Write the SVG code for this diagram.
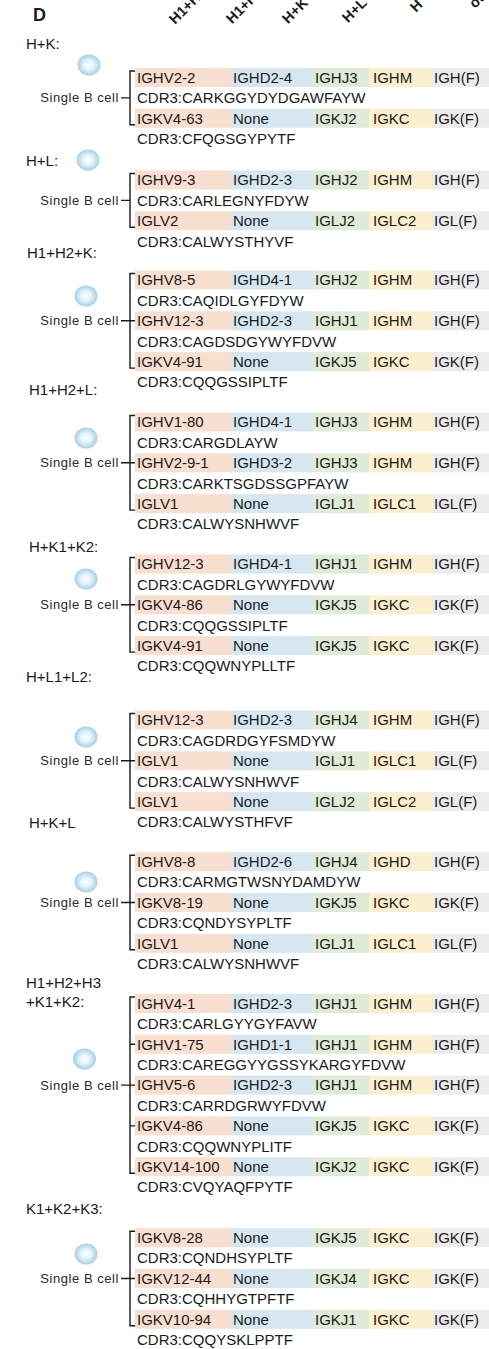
<svg xmlns="http://www.w3.org/2000/svg" xmlns:xlink="http://www.w3.org/1999/xlink" width="489" height="1349" viewBox="0 0 489 1349">
<style>
text{font-family:"Liberation Sans",Arial,sans-serif;fill:#1a1a1a}
.t{font-size:15px}
.lab{font-size:15px}
.sb{font-size:13px;letter-spacing:0.55px;fill:#2a2a2a;text-anchor:end}
.hd{font-size:14.5px;font-weight:bold}
.o{fill:#f9dfcf}.b{fill:#d7e7f1}.g{fill:#dfebd7}.y{fill:#fcefcf}.k{fill:#ececec}
.br{fill:none;stroke:#1a1a1a;stroke-width:1.4}
</style>
<defs>
<radialGradient id="bg" cx="0.5" cy="0.5" r="0.5">
<stop offset="0" stop-color="#ffffff"/>
<stop offset="0.45" stop-color="#e6f3fa"/>
<stop offset="1" stop-color="#a5d0e8"/>
</radialGradient>
<ellipse id="ball" cx="0" cy="0" rx="11.5" ry="10.5" fill="url(#bg)"/>
<g id="band">
<rect class="o" x="135" y="0" width="96" height="19"/>
<rect class="b" x="231" y="0" width="81" height="19"/>
<rect class="g" x="312" y="0" width="57" height="19"/>
<rect class="y" x="369" y="0" width="63" height="19"/>
<rect class="k" x="432" y="0" width="57" height="19"/>
</g>
</defs>
<rect width="489" height="1349" fill="#ffffff"/>

<g id="header">
<text x="33" y="21" style="font-size:18px;font-weight:bold">D</text>
<text class="hd" transform="translate(175,25) rotate(-45)">H1+H</text>
<text class="hd" transform="translate(232,24.5) rotate(-45)">H1+H</text>
<text class="hd" transform="translate(288,24.5) rotate(-45)">H+K</text>
<text class="hd" transform="translate(348,23.5) rotate(-45)">H+L</text>
<text class="hd" transform="translate(416,13) rotate(-45)">H</text>
<text class="hd" transform="translate(475,9) rotate(-45)">ot</text>
</g>

<g id="connectors">
<path class="br" d="M135,71H130V124.8H135M121,97.9H130"/>
<path class="br" d="M135,173.5H130V227.3H135M121,200.4H130"/>
<path class="br" d="M135,273.5H130V368.1H135M121,320.8H135"/>
<path class="br" d="M135,415.5H130V510.1H135M121,462.8H135"/>
<path class="br" d="M135,557.5H130V652.1H135M121,604.8H135"/>
<path class="br" d="M135,713.5H130V808.1H135M121,760.8H135"/>
<path class="br" d="M135,855.2H130V949.8H135M121,902.5H135"/>
<path class="br" d="M135,997H130V1173.2H135M130,1044.3H135M121,1085.1H135M130,1125.9H135"/>
<path class="br" d="M135,1231.2H130V1325.8H135M121,1278.5H135"/>
</g>

<g id="s1">
<text class="lab" x="26" y="48.7">H+K:</text>
<use xlink:href="#ball" x="89" y="65"/>
<text class="sb" x="119" y="102.4">Single B cell</text>
<use xlink:href="#band" y="68"/>
<use xlink:href="#band" y="108.8"/>
<text class="t" y="82.8"><tspan x="137">IGHV2-2</tspan><tspan x="233">IGHD2-4</tspan><tspan x="315">IGHJ3</tspan><tspan x="373">IGHM</tspan><tspan x="434">IGH(F)</tspan></text>
<text class="t" x="137" y="103.2">CDR3:CARKGGYDYDGAWFAYW</text>
<text class="t" y="123.6"><tspan x="137">IGKV4-63</tspan><tspan x="233">None</tspan><tspan x="315">IGKJ2</tspan><tspan x="373">IGKC</tspan><tspan x="434">IGK(F)</tspan></text>
<text class="t" x="137" y="144">CDR3:CFQGSGYPYTF</text>
</g>

<g id="s2">
<text class="lab" x="26" y="166.4">H+L:</text>
<use xlink:href="#ball" x="88" y="160"/>
<text class="sb" x="119" y="204.9">Single B cell</text>
<use xlink:href="#band" y="170.5"/>
<use xlink:href="#band" y="211.3"/>
<text class="t" y="185.3"><tspan x="137">IGHV9-3</tspan><tspan x="233">IGHD2-3</tspan><tspan x="315">IGHJ2</tspan><tspan x="373">IGHM</tspan><tspan x="434">IGH(F)</tspan></text>
<text class="t" x="137" y="205.7">CDR3:CARLEGNYFDYW</text>
<text class="t" y="226.1"><tspan x="137">IGLV2</tspan><tspan x="233">None</tspan><tspan x="315">IGLJ2</tspan><tspan x="373">IGLC2</tspan><tspan x="434">IGL(F)</tspan></text>
<text class="t" x="137" y="246.5">CDR3:CALWYSTHYVF</text>
</g>

<g id="s3">
<text class="lab" x="27" y="258.4">H1+H2+K:</text>
<use xlink:href="#ball" x="86" y="296"/>
<text class="sb" x="119" y="325.3">Single B cell</text>
<use xlink:href="#band" y="270.5"/>
<use xlink:href="#band" y="311.3"/>
<use xlink:href="#band" y="352.1"/>
<text class="t" y="285.3"><tspan x="137">IGHV8-5</tspan><tspan x="233">IGHD4-1</tspan><tspan x="315">IGHJ2</tspan><tspan x="373">IGHM</tspan><tspan x="434">IGH(F)</tspan></text>
<text class="t" x="137" y="305.7">CDR3:CAQIDLGYFDYW</text>
<text class="t" y="326.1"><tspan x="137">IGHV12-3</tspan><tspan x="233">IGHD2-3</tspan><tspan x="315">IGHJ1</tspan><tspan x="373">IGHM</tspan><tspan x="434">IGH(F)</tspan></text>
<text class="t" x="137" y="346.5">CDR3:CAGDSDGYWYFDVW</text>
<text class="t" y="366.9"><tspan x="137">IGKV4-91</tspan><tspan x="233">None</tspan><tspan x="315">IGKJ5</tspan><tspan x="373">IGKC</tspan><tspan x="434">IGK(F)</tspan></text>
<text class="t" x="137" y="387.3">CDR3:CQQGSSIPLTF</text>
</g>

<g id="s4">
<text class="lab" x="29" y="395.4">H1+H2+L:</text>
<use xlink:href="#ball" x="86" y="438"/>
<text class="sb" x="119" y="467.3">Single B cell</text>
<use xlink:href="#band" y="412.5"/>
<use xlink:href="#band" y="453.3"/>
<use xlink:href="#band" y="494.1"/>
<text class="t" y="427.3"><tspan x="137">IGHV1-80</tspan><tspan x="233">IGHD4-1</tspan><tspan x="315">IGHJ3</tspan><tspan x="373">IGHM</tspan><tspan x="434">IGH(F)</tspan></text>
<text class="t" x="137" y="447.7">CDR3:CARGDLAYW</text>
<text class="t" y="468.1"><tspan x="137">IGHV2-9-1</tspan><tspan x="233">IGHD3-2</tspan><tspan x="315">IGHJ3</tspan><tspan x="373">IGHM</tspan><tspan x="434">IGH(F)</tspan></text>
<text class="t" x="137" y="488.5">CDR3:CARKTSGDSSGPFAYW</text>
<text class="t" y="508.9"><tspan x="137">IGLV1</tspan><tspan x="233">None</tspan><tspan x="315">IGLJ1</tspan><tspan x="373">IGLC1</tspan><tspan x="434">IGL(F)</tspan></text>
<text class="t" x="137" y="529.3">CDR3:CALWYSNHWVF</text>
</g>

<g id="s5">
<text class="lab" x="29" y="552.1">H+K1+K2:</text>
<use xlink:href="#ball" x="86" y="579"/>
<text class="sb" x="119" y="609.3">Single B cell</text>
<use xlink:href="#band" y="554.5"/>
<use xlink:href="#band" y="595.3"/>
<use xlink:href="#band" y="636.1"/>
<text class="t" y="569.3"><tspan x="137">IGHV12-3</tspan><tspan x="233">IGHD4-1</tspan><tspan x="315">IGHJ1</tspan><tspan x="373">IGHM</tspan><tspan x="434">IGH(F)</tspan></text>
<text class="t" x="137" y="589.7">CDR3:CAGDRLGYWYFDVW</text>
<text class="t" y="610.1"><tspan x="137">IGKV4-86</tspan><tspan x="233">None</tspan><tspan x="315">IGKJ5</tspan><tspan x="373">IGKC</tspan><tspan x="434">IGK(F)</tspan></text>
<text class="t" x="137" y="630.5">CDR3:CQQGSSIPLTF</text>
<text class="t" y="650.9"><tspan x="137">IGKV4-91</tspan><tspan x="233">None</tspan><tspan x="315">IGKJ5</tspan><tspan x="373">IGKC</tspan><tspan x="434">IGK(F)</tspan></text>
<text class="t" x="137" y="671.3">CDR3:CQQWNYPLLTF</text>
</g>

<g id="s6">
<text class="lab" x="26" y="682.1">H+L1+L2:</text>
<use xlink:href="#ball" x="86" y="737"/>
<text class="sb" x="119" y="765.3">Single B cell</text>
<use xlink:href="#band" y="710.5"/>
<use xlink:href="#band" y="751.3"/>
<use xlink:href="#band" y="792.1"/>
<text class="t" y="725.3"><tspan x="137">IGHV12-3</tspan><tspan x="233">IGHD2-3</tspan><tspan x="315">IGHJ4</tspan><tspan x="373">IGHM</tspan><tspan x="434">IGH(F)</tspan></text>
<text class="t" x="137" y="745.7">CDR3:CAGDRDGYFSMDYW</text>
<text class="t" y="766.1"><tspan x="137">IGLV1</tspan><tspan x="233">None</tspan><tspan x="315">IGLJ1</tspan><tspan x="373">IGLC1</tspan><tspan x="434">IGL(F)</tspan></text>
<text class="t" x="137" y="786.5">CDR3:CALWYSNHWVF</text>
<text class="t" y="806.9"><tspan x="137">IGLV1</tspan><tspan x="233">None</tspan><tspan x="315">IGLJ2</tspan><tspan x="373">IGLC2</tspan><tspan x="434">IGL(F)</tspan></text>
<text class="t" x="137" y="827.3">CDR3:CALWYSTHFVF</text>
</g>

<g id="s7">
<text class="lab" x="29" y="828.1">H+K+L</text>
<use xlink:href="#ball" x="86" y="882"/>
<text class="sb" x="119" y="907">Single B cell</text>
<use xlink:href="#band" y="852.2"/>
<use xlink:href="#band" y="893"/>
<use xlink:href="#band" y="933.8"/>
<text class="t" y="867"><tspan x="137">IGHV8-8</tspan><tspan x="233">IGHD2-6</tspan><tspan x="315">IGHJ4</tspan><tspan x="373">IGHD</tspan><tspan x="434">IGH(F)</tspan></text>
<text class="t" x="137" y="887.4">CDR3:CARMGTWSNYDAMDYW</text>
<text class="t" y="907.8"><tspan x="137">IGKV8-19</tspan><tspan x="233">None</tspan><tspan x="315">IGKJ5</tspan><tspan x="373">IGKC</tspan><tspan x="434">IGK(F)</tspan></text>
<text class="t" x="137" y="928.2">CDR3:CQNDYSYPLTF</text>
<text class="t" y="948.6"><tspan x="137">IGLV1</tspan><tspan x="233">None</tspan><tspan x="315">IGLJ1</tspan><tspan x="373">IGLC1</tspan><tspan x="434">IGL(F)</tspan></text>
<text class="t" x="137" y="969">CDR3:CALWYSNHWVF</text>
</g>

<g id="s8">
<text class="lab" x="26" y="988.1">H1+H2+H3</text>
<text class="lab" x="26" y="1007.4">+K1+K2:</text>
<use xlink:href="#ball" x="84.5" y="1059"/>
<text class="sb" x="119" y="1089.6">Single B cell</text>
<use xlink:href="#band" y="994"/>
<use xlink:href="#band" y="1034.8"/>
<use xlink:href="#band" y="1075.6"/>
<use xlink:href="#band" y="1116.4"/>
<use xlink:href="#band" y="1157.2"/>
<text class="t" y="1008.8"><tspan x="137">IGHV4-1</tspan><tspan x="233">IGHD2-3</tspan><tspan x="315">IGHJ1</tspan><tspan x="373">IGHM</tspan><tspan x="434">IGH(F)</tspan></text>
<text class="t" x="137" y="1029.2">CDR3:CARLGYYGYFAVW</text>
<text class="t" y="1049.6"><tspan x="137">IGHV1-75</tspan><tspan x="233">IGHD1-1</tspan><tspan x="315">IGHJ1</tspan><tspan x="373">IGHM</tspan><tspan x="434">IGH(F)</tspan></text>
<text class="t" x="137" y="1070">CDR3:CAREGGYYGSSYKARGYFDVW</text>
<text class="t" y="1090.4"><tspan x="137">IGHV5-6</tspan><tspan x="233">IGHD2-3</tspan><tspan x="315">IGHJ1</tspan><tspan x="373">IGHM</tspan><tspan x="434">IGH(F)</tspan></text>
<text class="t" x="137" y="1110.8">CDR3:CARRDGRWYFDVW</text>
<text class="t" y="1131.2"><tspan x="137">IGKV4-86</tspan><tspan x="233">None</tspan><tspan x="315">IGKJ5</tspan><tspan x="373">IGKC</tspan><tspan x="434">IGK(F)</tspan></text>
<text class="t" x="137" y="1151.6">CDR3:CQQWNYPLITF</text>
<text class="t" y="1172"><tspan x="137">IGKV14-100</tspan><tspan x="233">None</tspan><tspan x="315">IGKJ2</tspan><tspan x="373">IGKC</tspan><tspan x="434">IGK(F)</tspan></text>
<text class="t" x="137" y="1192.4">CDR3:CVQYAQFPYTF</text>
</g>

<g id="s9">
<text class="lab" x="26" y="1213.7">K1+K2+K3:</text>
<use xlink:href="#ball" x="86" y="1254"/>
<text class="sb" x="119" y="1283">Single B cell</text>
<use xlink:href="#band" y="1228.2"/>
<use xlink:href="#band" y="1269"/>
<use xlink:href="#band" y="1309.8"/>
<text class="t" y="1243"><tspan x="137">IGKV8-28</tspan><tspan x="233">None</tspan><tspan x="315">IGKJ5</tspan><tspan x="373">IGKC</tspan><tspan x="434">IGK(F)</tspan></text>
<text class="t" x="137" y="1263.4">CDR3:CQNDHSYPLTF</text>
<text class="t" y="1283.8"><tspan x="137">IGKV12-44</tspan><tspan x="233">None</tspan><tspan x="315">IGKJ4</tspan><tspan x="373">IGKC</tspan><tspan x="434">IGK(F)</tspan></text>
<text class="t" x="137" y="1304.2">CDR3:CQHHYGTPFTF</text>
<text class="t" y="1324.6"><tspan x="137">IGKV10-94</tspan><tspan x="233">None</tspan><tspan x="315">IGKJ1</tspan><tspan x="373">IGKC</tspan><tspan x="434">IGK(F)</tspan></text>
<text class="t" x="137" y="1345">CDR3:CQQYSKLPPTF</text>
</g>
</svg>
